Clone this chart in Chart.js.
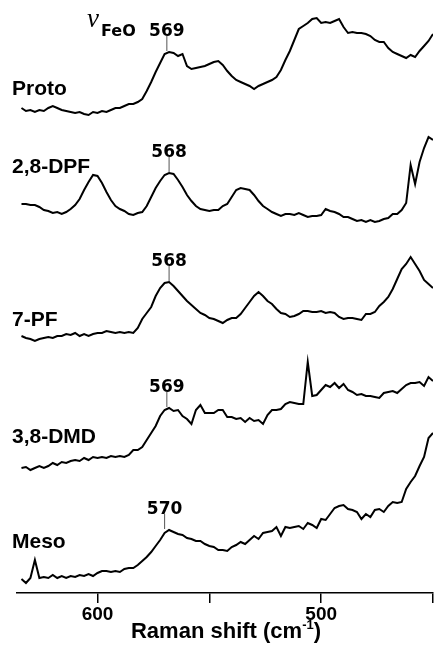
<!DOCTYPE html>
<html>
<head>
<meta charset="utf-8">
<script src="https://cdn.jsdelivr.net/npm/chart.js@4"></script>
<style>
  html, body { margin: 0; padding: 0; background: #fff; }
  canvas { display: block; }
</style>
</head>
<body>
<canvas id="raman" width="435" height="648"></canvas>
<script>
// Raman shift (cm-1), sampled every 2 cm-1 from 634 down to 450
const shifts = [
  634, 632, 630, 628, 626, 624, 622, 620, 618, 616,
  614, 612, 610, 608, 606, 604, 602, 600, 598, 596,
  594, 592, 590, 588, 586, 584, 582, 580, 578, 576,
  574, 572, 570, 568, 566, 564, 562, 560, 558, 556,
  554, 552, 550, 548, 546, 544, 542, 540, 538, 536,
  534, 532, 530, 528, 526, 524, 522, 520, 518, 516,
  514, 512, 510, 508, 506, 504, 502, 500, 498, 496,
  494, 492, 490, 488, 486, 484, 482, 480, 478, 476,
  474, 472, 470, 468, 466, 464, 462, 460, 458, 456,
  454, 452, 450
];

// intensities (a.u.), traces already offset for stacking
const proto = [
  485, 482, 483, 481, 483, 482, 485, 487, 485, 483,
  482, 481, 480, 481, 479, 478, 481, 480, 482, 481,
  483, 485, 485, 487, 489, 489, 491, 494, 502, 511,
  521, 530, 539, 541, 540, 537, 539, 527, 524, 525,
  526, 527, 529, 531, 532, 528, 522, 517, 513, 511,
  509, 507, 504, 507, 509, 511, 513, 516, 523, 533,
  542, 553, 564, 567, 570, 574, 575, 570, 571, 570,
  572, 574, 566, 560, 561, 560, 560, 559, 557, 553,
  551, 551, 545, 541, 539, 537, 535, 538, 536, 542,
  547, 552, 559
];

const dpf28 = [
  389, 389, 388, 388, 386, 383, 382, 380, 381, 379,
  381, 384, 388, 394, 403, 411, 418, 417, 410, 401,
  393, 387, 384, 382, 379, 378, 380, 381, 387, 396,
  405, 412, 418, 420, 419, 413, 406, 398, 392, 387,
  384, 383, 382, 383, 383, 387, 389, 396, 403, 405,
  404, 403, 398, 392, 387, 384, 381, 379, 377, 379,
  379, 378, 380, 378, 376, 377, 377, 378, 384, 382,
  381, 379, 376, 376, 374, 372, 373, 371, 373, 371,
  372, 374, 375, 379, 379, 383, 390, 428, 409, 431,
  445, 456, 453
];

const pf7 = [
  257, 255, 254, 252, 254, 255, 256, 255, 257, 257,
  259, 258, 260, 257, 259, 257, 259, 260, 260, 262,
  261, 260, 261, 260, 261, 260, 265, 274, 280, 286,
  297, 305, 310, 311, 307, 302, 297, 292, 288, 284,
  280, 278, 275, 274, 272, 270, 273, 275, 275, 279,
  285, 291, 297, 301, 297, 292, 289, 284, 280, 279,
  276, 277, 279, 282, 282, 281, 281, 282, 280, 281,
  280, 276, 274, 275, 275, 274, 273, 279, 279, 281,
  287, 291, 296, 304, 314, 324, 329, 336, 329, 322,
  313, 309, 305
];

const dmd38 = [
  125, 126, 123, 125, 127, 125, 127, 130, 128, 131,
  130, 132, 133, 132, 135, 133, 136, 135, 136, 135,
  137, 136, 137, 136, 138, 143, 143, 146, 153, 160,
  167, 177, 183, 185, 182, 183, 177, 174, 169, 183,
  188, 180, 180, 180, 183, 183, 176, 176, 174, 175,
  171, 175, 172, 173, 169, 178, 183, 183, 184, 189,
  191, 190, 189, 189, 231, 197, 198, 203, 208, 206,
  210, 205, 209, 203, 201, 198, 199, 197, 197, 196,
  195, 200, 201, 202, 200, 204, 208, 210, 210, 211,
  207, 216, 212
];

const meso = [
  14, 10, 15, 33, 15, 16, 15, 18, 15, 17,
  15, 17, 16, 18, 17, 19, 17, 20, 22, 22,
  21, 22, 21, 24, 25, 25, 28, 32, 36, 41,
  47, 53, 60, 63, 61, 59, 58, 55, 54, 52,
  52, 49, 47, 46, 43, 43, 42, 46, 48, 51,
  49, 53, 57, 54, 60, 61, 62, 66, 57, 66,
  65, 66, 67, 64, 70, 68, 65, 74, 73, 79,
  85, 87, 88, 84, 83, 81, 74, 79, 76, 83,
  84, 81, 87, 91, 90, 91, 104, 111, 117, 127,
  136, 155, 160
];

const traceNames = ["Proto", "2,8-DPF", "7-PF", "3,8-DMD", "Meso"];
const traces = [proto, dpf28, pf7, dmd38, meso];
// nu(Fe-O) band position marked on each trace
const feoShifts = [569, 568, 568, 569, 570];

const tickValues = [600, 550, 500, 450];
const labelledTicks = [600, 500];

const sansBold = '"Liberation Sans", Arial, sans-serif';
const wideBold = '"DejaVu Sans", sans-serif';

// trace names, nu(FeO) markers and axis title
const spectrumLabels = {
    id: "spectrumLabels",
    afterDatasetsDraw(chart) {
        const ctx = chart.ctx;
        const x = chart.scales.x;
        const y = chart.scales.y;
        ctx.save();
        ctx.fillStyle = "#000";
        ctx.textBaseline = "alphabetic";

        // names on the left
        const nameBase = [95, 173, 326, 443, 548];
        ctx.font = "bold 21px " + sansBold;
        ctx.textAlign = "left";
        traceNames.forEach((name, i) => ctx.fillText(name, 12, nameBase[i]));

        // band markers
        ctx.font = "bold 17px " + wideBold;
        ctx.textAlign = "center";
        traces.forEach((data, i) => {
            const w = feoShifts[i];
            let top = -Infinity;
            shifts.forEach((s, k) => {
                if (Math.abs(s - w) < 2.1) top = Math.max(top, data[k]);
            });
            const px = x.getPixelForValue(w);
            const py = y.getPixelForValue(top);
            ctx.strokeStyle = "#555";
            ctx.lineWidth = 1;
            ctx.beginPath();
            ctx.moveTo(px, py - 1);
            ctx.lineTo(px, py - 16);
            ctx.stroke();
            ctx.fillText(String(w), px, py - 16);
        });

        // nu FeO
        ctx.textAlign = "left";
        ctx.font = 'italic 27px "Liberation Serif", serif';
        ctx.fillText("\u03bd", 87, 27);
        ctx.font = "bold 16px " + wideBold;
        ctx.fillText("FeO", 101, 36);

        // axis title with superscript
        const big = "bold 22px " + sansBold;
        const small = "bold 13px " + sansBold;
        ctx.font = big;
        const a = "Raman shift (cm";
        const c = ")";
        const wa = ctx.measureText(a).width;
        const wc = ctx.measureText(c).width;
        ctx.font = small;
        const b = "-1";
        const wb = ctx.measureText(b).width;
        let tx = 226 - (wa + wb + wc) / 2;
        const base = 638;
        ctx.font = big;
        ctx.fillText(a, tx, base);
        tx += wa;
        ctx.font = small;
        ctx.fillText(b, tx, base - 9);
        tx += wb;
        ctx.font = big;
        ctx.fillText(c, tx, base);
        ctx.restore();
    }
};

new Chart(document.getElementById("raman"), {
    type: "line",
    data: {
        labels: shifts,
        datasets: traces.map((data, i) => ({
            label: traceNames[i],
            data: data.map((v, k) => ({ x: shifts[k], y: v })),
            borderColor: "#000",
            borderWidth: 2,
            pointRadius: 0,
            tension: 0,
            fill: false
        }))
    },
    options: {
        responsive: false,
        animation: false,
        layout: { padding: { left: 17, right: 2, top: 0, bottom: 0 } },
        plugins: {
            legend: { display: false },
            tooltip: { enabled: false }
        },
        scales: {
            x: {
                type: "linear",
                reverse: true,
                min: 450,
                max: 636,
                afterBuildTicks: scale => {
                    scale.ticks = tickValues.map(v => ({ value: v }));
                },
                afterFit: scale => {
                    scale.height = 55;
                },
                grid: {
                    drawOnChartArea: false,
                    drawTicks: true,
                    tickLength: 10,
                    color: "#000",
                    lineWidth: 1.5
                },
                border: { display: true, color: "#000", width: 1.5 },
                ticks: {
                    color: "#000",
                    padding: 0,
                    maxRotation: 0,
                    autoSkip: false,
                    font: { family: sansBold, size: 19, weight: "bold" },
                    callback: v => labelledTicks.includes(v) ? String(v) : ""
                }
            },
            y: {
                display: false,
                min: 0,
                max: 593
            }
        }
    },
    plugins: [spectrumLabels]
});
</script>
</body>
</html>
